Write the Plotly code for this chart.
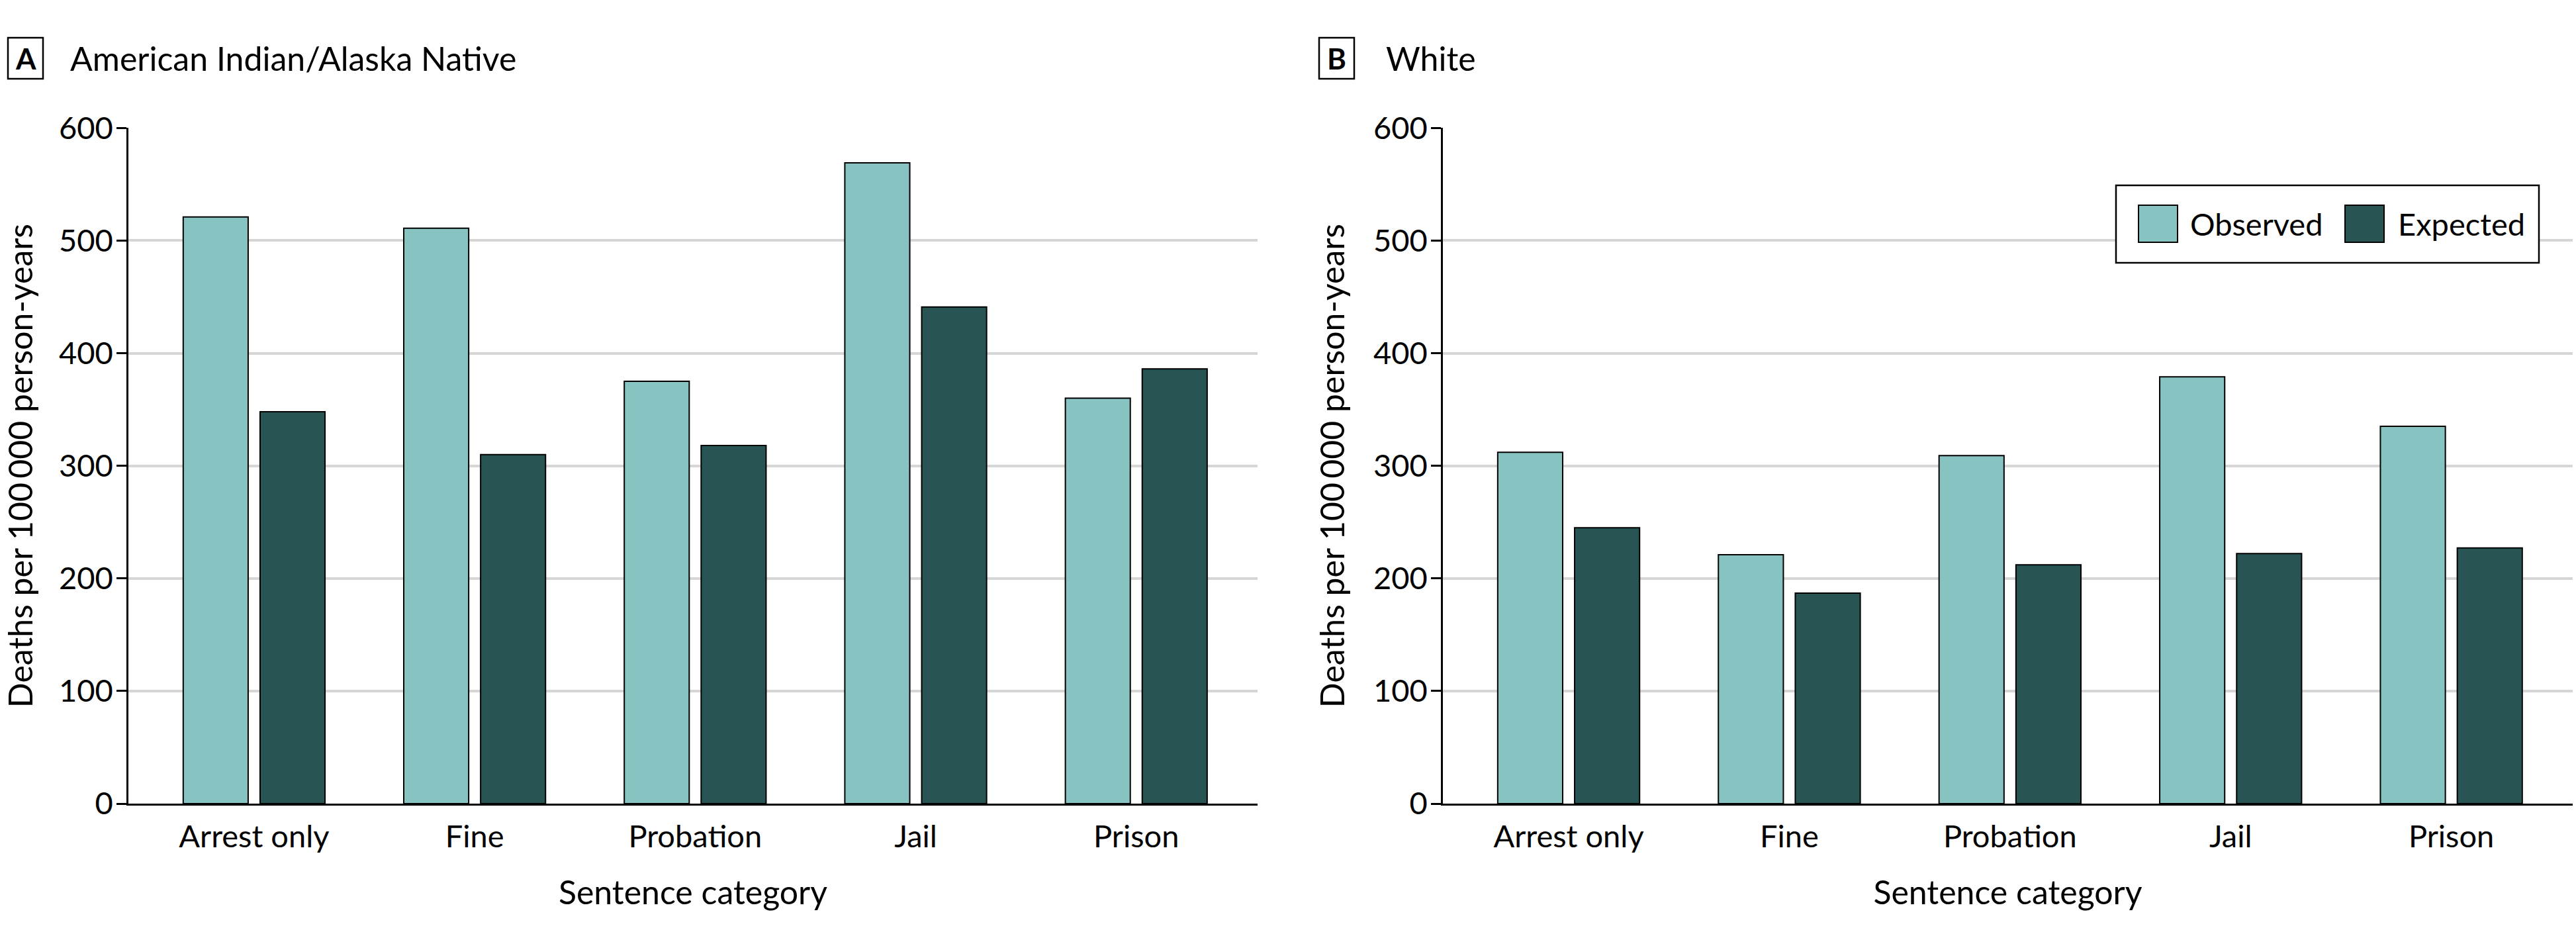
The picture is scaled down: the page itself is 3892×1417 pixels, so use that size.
import plotly.graph_objects as go

categories = ["Arrest only", "Fine", "Probation", "Jail", "Prison"]
panel_a_observed = [521, 511, 375, 569, 360]
panel_a_expected = [348, 310, 318, 441, 386]
panel_b_observed = [312, 221, 309, 379, 335]
panel_b_expected = [245, 187, 212, 222, 227]
y_ticks = [0, 100, 200, 300, 400, 500, 600]
panel_titles = ["American Indian/Alaska Native", "White"]
panel_letters = ["A", "B"]
series_names = ["Observed", "Expected"]

W, H = 3892, 1417
OBS_COLOR = "rgb(134,195,193)"
EXP_COLOR = "rgb(41,84,84)"
FONT = "Lato"

def px(x):
    return x / W

def py(y):
    return 1 - y / H

fig = go.Figure()
for i, (obs, exp) in enumerate([(panel_a_observed, panel_a_expected),
                                (panel_b_observed, panel_b_expected)]):
    xa = "x" if i == 0 else "x2"
    ya = "y" if i == 0 else "y2"
    fig.add_trace(go.Bar(x=categories, y=obs, name=series_names[0], xaxis=xa, yaxis=ya,
                         marker=dict(color=OBS_COLOR, line=dict(color="black", width=2)),
                         showlegend=False))
    fig.add_trace(go.Bar(x=categories, y=exp, name=series_names[1], xaxis=xa, yaxis=ya,
                         marker=dict(color=EXP_COLOR, line=dict(color="black", width=2)),
                         showlegend=False))

y_dom = [py(1214), py(193.3)]
common_x = dict(type="category", range=[-0.57, 4.55], showline=True, linecolor="black",
                linewidth=3, showgrid=False, ticks="", ticklabelstandoff=7,
                tickfont=dict(size=47, color="black", family=FONT),
                title=dict(text="Sentence category", font=dict(size=50, color="black", family=FONT),
                           standoff=42),
                automargin=False, fixedrange=True)
common_y = dict(range=[0, 600], tickvals=y_ticks, showline=True, linecolor="black", linewidth=2.5,
                ticks="outside", ticklen=15, tickwidth=2.5, tickcolor="black",
                ticklabelstandoff=-4,
                showgrid=True, gridcolor="#d6d6d6", gridwidth=4, zeroline=False,
                tickfont=dict(size=47, color="black", family=FONT),
                title=dict(text="Deaths per 100\u2009000 person-years",
                           font=dict(size=50, color="black", family=FONT), standoff=28),
                automargin=False, domain=y_dom, fixedrange=True)

fig.update_layout(
    width=W, height=H,
    margin=dict(l=0, r=0, t=0, b=0),
    paper_bgcolor="white", plot_bgcolor="white",
    barmode="group", bargap=0.303, bargroupgap=0.155,
    font=dict(family=FONT, color="black"),
    xaxis=dict(common_x, domain=[px(194), px(1900)], anchor="y"),
    yaxis=dict(common_y, anchor="x"),
    xaxis2=dict(common_x, domain=[px(2180), px(3887)], anchor="y2"),
    yaxis2=dict(common_y, anchor="x2"),
)

shapes = []
annotations = []
# panel letter boxes and titles
for box_x0, title_x, letter, title in [(12, 104, panel_letters[0], panel_titles[0]),
                                        (1993, 2092, panel_letters[1], panel_titles[1])]:
    shapes.append(dict(type="rect", xref="paper", yref="paper",
                       x0=px(box_x0), x1=px(box_x0 + 53), y0=py(119), y1=py(57),
                       line=dict(color="black", width=2.5), fillcolor="white"))
    annotations.append(dict(text="<b>%s</b>" % letter, xref="paper", yref="paper",
                            x=px(box_x0 + 26.5), y=py(88), xanchor="center", yanchor="middle",
                            showarrow=False, font=dict(size=44, color="black", family=FONT)))
    annotations.append(dict(text=title, xref="paper", yref="paper",
                            x=px(title_x), y=py(88), xanchor="left", yanchor="middle",
                            showarrow=False, font=dict(size=50, color="black", family=FONT)))

# legend (drawn in panel B)
shapes.append(dict(type="rect", xref="paper", yref="paper",
                   x0=px(3197), x1=px(3836), y0=py(397), y1=py(280),
                   line=dict(color="black", width=2.5), fillcolor="white"))
for sx, tx, color, name in [(3231, 3307, OBS_COLOR, series_names[0]),
                            (3543, 3621, EXP_COLOR, series_names[1])]:
    shapes.append(dict(type="rect", xref="paper", yref="paper",
                       x0=px(sx), x1=px(sx + 59), y0=py(366), y1=py(310),
                       line=dict(color="black", width=2), fillcolor=color))
    annotations.append(dict(text=name, xref="paper", yref="paper",
                            x=px(tx), y=py(338), xanchor="left", yanchor="middle",
                            showarrow=False, font=dict(size=47, color="black", family=FONT)))

fig.update_layout(shapes=shapes, annotations=annotations)
fig.write_html("out.html")
